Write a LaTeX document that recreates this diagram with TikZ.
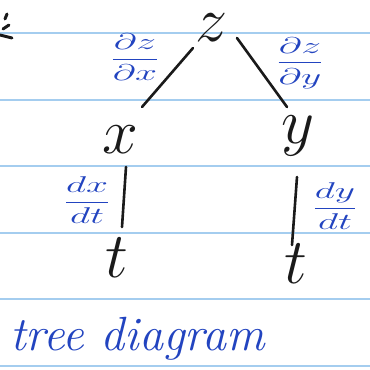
\documentclass[tikz,border=0pt]{standalone}
\usepackage{amsmath}
\usepackage{graphicx}
\definecolor{ink}{HTML}{1A1A1A}
\definecolor{blueink}{HTML}{2244C0}
\definecolor{rule}{HTML}{A4CDEF}
\newcommand{\bigvar}[1]{\scalebox{3.1}{$#1$}}
\newcommand{\derivlab}[2]{\scalebox{1.9}[1.1]{$\dfrac{#1}{#2}$}}
\begin{document}
\begin{tikzpicture}[x=1pt,y=-1pt,
  var/.style={text=ink,font=\huge,inner sep=0pt},
  lab/.style={text=blueink,font=\huge,inner sep=0pt},
  edge/.style={draw=ink,line width=2.6pt,line cap=round},
  paperline/.style={draw=rule,line width=1.4pt},
  glyphstroke/.style={draw=ink,line width=3pt,line cap=round}]
\useasboundingbox[fill=white] (0,0) rectangle (370,370);
% ruled paper
\foreach \yy in {33,100,166,233,299,366}
  \draw[paperline] (0,\yy) -- (370,\yy);
% cropped glyph at left edge
\draw[glyphstroke] (5,19) -- (7,14);
\draw[glyphstroke] (3,29) -- (9,25);
\draw[glyphstroke] (0,35) -- (12,38);
% variables
\node[var] (z) at (212,28) {\bigvar{z}};
\node[var] (x) at (120,140) {\bigvar{x}};
\node[var] (y) at (298,136) {\bigvar{y}};
\node[var] (t1) at (117,258) {\bigvar{t}};
\node[var] (t2) at (296,264) {\bigvar{t}};
% branches
\draw[edge] ([shift={(-19,20)}]z.center) -- ([shift={(22,-33)}]x.center);
\draw[edge] ([shift={(25,10)}]z.center) -- ([shift={(-11,-29)}]y.center);
\draw[edge] ([shift={(6,27)}]x.center) -- ([shift={(5,-31)}]t1.center);
\draw[edge] ([shift={(-1,41)}]y.center) -- ([shift={(-4,-19)}]t2.center);
% derivative labels
\node[lab] (dzx) at (135,57) {\derivlab{\partial z}{\partial x}};
\node[lab] (dzy) at (300,63) {\derivlab{\partial z}{\partial y}};
\node[lab] (dxt) at (87,200) {\derivlab{dx}{dt}};
\node[lab] (dyt) at (335,206) {\derivlab{dy}{dt}};
% caption
\node[text=blueink,font=\fontsize{48}{48}\selectfont\itshape,inner sep=0pt,anchor=base west] (cap) at (10,350) {tree diagram};
\end{tikzpicture}
\end{document}
